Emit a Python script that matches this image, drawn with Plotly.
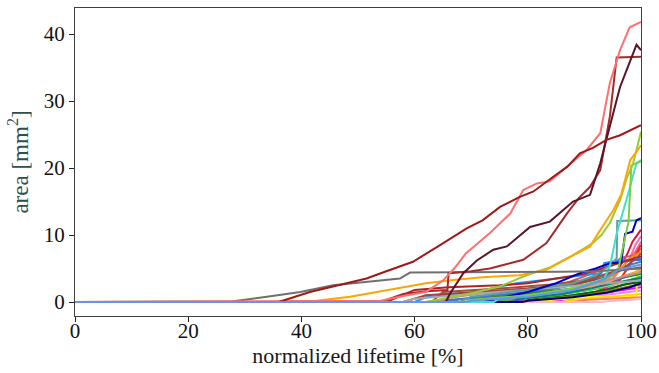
import plotly.graph_objects as go

# ---- data: knots (normalized lifetime %, area mm^2) ----
# small specimens (drawn first)
x_s01 = [0, 76, 78, 85, 90, 94, 96, 97.5, 98.5, 100]
y_s01 = [0, 0, 0.3, 1.0, 2.0, 3.5, 5.0, 7.0, 9.0, 10.8]
x_s02 = [0, 79, 80, 88, 93, 96, 98, 99, 100]
y_s02 = [0, 0, 0.5, 1.5, 3.0, 4.5, 6.5, 8.5, 9.8]
x_s03 = [0, 80, 82, 90, 95, 97, 99, 100]
y_s03 = [0, 0, 0.8, 2.0, 3.5, 5.5, 7.5, 9.0]
x_s04 = [0, 73, 75, 84, 89, 92, 95, 96.5, 99, 100]
y_s04 = [0, 0, 0.5, 2.0, 3.5, 4.5, 5.5, 6.6, 7.0, 8.0]
x_s05 = [0, 84, 85, 92, 96, 98, 100]
y_s05 = [0, 0, 0.5, 1.5, 3.0, 5.5, 8.5]
x_s06 = [0, 60, 62, 70, 78, 84, 88, 91, 93, 93.5, 96, 100]
y_s06 = [0, 0, 0.7, 1.4, 2.8, 3.4, 3.8, 4.2, 4.3, 5.8, 6.2, 6.5]
x_s07 = [0, 62, 66, 70, 80, 88, 92, 94, 96, 100]
y_s07 = [0, 0, 0.3, 0.6, 1.5, 2.5, 3.5, 5.5, 6.0, 6.3]
x_s08 = [0, 66, 68, 78, 86, 92, 95, 97, 100]
y_s08 = [0, 0, 0.4, 1.0, 2.2, 3.6, 4.3, 5.3, 6.0]
x_s10 = [0, 74, 75, 85, 91, 95, 98, 100]
y_s10 = [0, 0, 0.3, 1.0, 2.0, 3.0, 4.0, 4.5]
x_s11 = [0, 77, 78, 86, 92, 96, 100]
y_s11 = [0, 0, 0.2, 0.8, 1.5, 2.3, 3.2]
x_s12 = [0, 79, 80, 88, 93, 97, 100]
y_s12 = [0, 0, 0.2, 0.6, 1.2, 2.0, 2.6]
x_s13 = [0, 84, 85, 90, 94.5, 97, 100]
y_s13 = [0, 0, 0.2, 0.8, 1.5, 1.8, 2.2]
x_s14 = [0, 81, 82, 90, 95, 100]
y_s14 = [0, 0, 0.3, 0.7, 1.2, 1.7]
x_s15 = [0, 80, 82, 91.5, 99.2, 99.3, 100]
y_s15 = [0, 0, 0.2, 0.8, 0.8, 4.8, 5.0]
x_s16 = [0, 86, 88, 95, 100]
y_s16 = [0, 0, 0.3, 0.8, 1.2]
x_s17 = [0, 71, 72, 80, 88, 93, 96, 100]
y_s17 = [0, 0, 0.5, 1.2, 2.0, 2.8, 3.5, 4.2]
x_s18 = [0, 79, 80, 88, 94, 97, 100]
y_s18 = [0, 0, 0.3, 1.0, 1.8, 2.6, 3.0]
x_s19 = [0, 75, 76, 85, 91, 95, 100]
y_s19 = [0, 0, 0.3, 1.0, 1.8, 2.5, 3.8]
x_s20 = [0, 81, 82, 90, 95, 100]
y_s20 = [0, 0, 0.4, 1.0, 1.8, 2.7]
x_s21 = [0, 79, 80, 88, 93, 96, 98, 100]
y_s21 = [0, 0, 0.6, 1.5, 3.0, 4.5, 6.5, 7.5]
x_s22 = [0, 77, 78, 86, 92, 96, 100]
y_s22 = [0, 0, 0.5, 1.3, 2.4, 3.6, 4.8]
x_s23 = [0, 63, 65, 75, 84, 90, 95, 100]
y_s23 = [0, 0, 1.5, 2.0, 2.6, 3.2, 4.5, 5.2]
x_s24 = [0, 71, 72, 82, 90, 95, 100]
y_s24 = [0, 0, 0.4, 1.0, 1.8, 2.6, 3.4]
x_s25 = [0, 64, 66, 76, 84, 90, 96, 100]
y_s25 = [0, 0, 0.6, 1.8, 2.2, 2.6, 3.6, 4.4]
x_s26 = [0, 88, 90, 96, 100]
y_s26 = [0, 0, 0.3, 0.5, 0.7]
x_s27 = [0, 93, 95, 100]
y_s27 = [0, 0, 0.2, 0.4]
x_s28 = [0, 77, 78, 86, 91, 95, 100]
y_s28 = [0, 0, 0.4, 1.2, 2.0, 2.8, 3.6]
x_s29 = [0, 79, 80, 88, 94, 98, 100]
y_s29 = [0, 0, 0.2, 0.7, 1.4, 2.2, 2.8]
x_s30 = [0, 55, 60, 66, 75, 80, 85, 90, 95, 100]
y_s30 = [0, 0, 1.8, 2.2, 2.5, 2.8, 3.5, 4.2, 5.5, 6.8]
x_s31 = [0, 58, 62, 80, 88, 93, 97, 100]
y_s31 = [0, 0, 1.0, 2.0, 2.6, 3.5, 5.0, 7.2]
x_s32 = [0, 58, 60, 70, 80, 90, 100]
y_s32 = [0, 0, 0.5, 1.2, 1.8, 2.5, 3.2]

# larger specimens
x_cadet = [0, 68, 70, 80, 88, 92, 94.5, 95.7, 95.8, 99.5, 100]
y_cadet = [0, 0, 0.8, 1.8, 2.8, 4.0, 5.5, 6.5, 12.1, 12.1, 12.2]
x_blue = [0, 72, 76.3, 80, 85, 89.2, 92, 94.5, 96.5, 97.2, 98.5, 99.2, 100]
y_blue = [0, 0, 0.8, 1.5, 2.8, 4.3, 5.0, 5.8, 5.9, 10.2, 10.5, 12.2, 12.5]
x_turq = [0, 74, 75, 85, 90, 93.5, 94.5, 95.7, 97.5, 99.2, 100]
y_turq = [0, 0, 0.5, 1.5, 2.5, 3.5, 5.3, 10.2, 15.5, 20.7, 21.2]
x_green = [0, 69, 70, 80, 88, 94, 96, 97.8, 98.3, 100]
y_green = [0, 0, 0.3, 1.0, 2.0, 3.5, 5.0, 12.0, 20.4, 21.0]
x_ygreen = [0, 62, 70, 75, 79.2, 84, 88, 91.5, 93, 94.5, 96.3, 97.5, 98.6, 100]
y_ygreen = [0, 0, 1.3, 2.3, 3.8, 5.2, 7.0, 8.8, 10.0, 11.8, 15.2, 18.5, 20.7, 25.4]
x_orange = [0, 37, 42.7, 48.6, 53.3, 58.6, 62, 66.8, 72, 78.6, 83.3, 87, 91, 93, 95.1, 96.5, 98.1, 99, 100]
y_orange = [0, 0, 0.2, 0.8, 1.5, 2.3, 2.8, 3.3, 3.7, 4.0, 4.8, 6.5, 8.3, 11.0, 13.7, 16.0, 21.2, 22.2, 23.4]
x_gray = [0, 28, 33.9, 39.8, 45.6, 51.5, 57.4, 59.2, 79.8, 86, 92, 96, 100]
y_gray = [0, 0.1, 0.8, 1.5, 2.5, 3.0, 3.5, 4.4, 4.4, 4.5, 4.6, 4.8, 5.0]
x_brown = [0, 54, 58, 62, 65.8, 66, 70, 73.3, 76, 79.2, 83.3, 86.9, 89, 91, 92.8, 94.5, 95.7, 100]
y_brown = [0, 0, 1.2, 1.6, 1.8, 4.3, 4.6, 5.0, 5.6, 6.3, 8.8, 13.2, 15.5, 17.2, 19.7, 27.7, 36.5, 36.6]
x_maroon = [0, 65.5, 66.3, 68.6, 71, 73.9, 76.3, 78, 80.4, 83.9, 86, 88, 91, 92.8, 95.1, 96.3, 99.2, 100]
y_maroon = [0, 0, 1.3, 4.3, 6.2, 7.8, 8.3, 9.5, 11.2, 12.0, 13.5, 15.0, 16.0, 20.7, 28.2, 32.1, 38.4, 37.6]
x_salmon = [0, 54, 58, 62, 65, 67, 69, 73.3, 76.9, 79.2, 81.6, 83.9, 86.9, 90.4, 92.8, 94.5, 96.3, 98, 100]
y_salmon = [0, 0.2, 0.9, 1.5, 3.2, 5.0, 7.2, 10.3, 13.2, 16.7, 17.7, 18.0, 20.2, 22.7, 25.2, 32.7, 37.6, 41.0, 41.8]
x_dred = [0, 36, 41.5, 46.8, 51.5, 55, 59.7, 64.5, 69.2, 72, 75.1, 78.6, 81, 84.5, 87, 89.2, 91.5, 93.9, 96.3, 100]
y_dred = [0, 0, 1.5, 2.5, 3.5, 4.6, 6.0, 8.5, 11.0, 12.2, 14.2, 15.7, 16.5, 18.7, 20.2, 22.2, 23.0, 24.2, 24.9, 26.4]
# baseline specimen (drawn last)
x_s09 = [0, 69, 70, 80, 88, 93, 96, 100]
y_s09 = [0, 0, 0.2, 0.8, 1.8, 3.2, 4.8, 5.6]

series = [
    (x_s01, y_s01), (x_s02, y_s02), (x_s03, y_s03), (x_s04, y_s04), (x_s05, y_s05),
    (x_s06, y_s06), (x_s07, y_s07), (x_s08, y_s08), (x_s10, y_s10), (x_s11, y_s11),
    (x_s12, y_s12), (x_s13, y_s13), (x_s14, y_s14), (x_s15, y_s15), (x_s16, y_s16),
    (x_s17, y_s17), (x_s18, y_s18), (x_s19, y_s19), (x_s20, y_s20), (x_s21, y_s21),
    (x_s22, y_s22), (x_s23, y_s23), (x_s24, y_s24), (x_s25, y_s25), (x_s26, y_s26),
    (x_s27, y_s27), (x_s28, y_s28), (x_s29, y_s29), (x_s30, y_s30), (x_s31, y_s31),
    (x_s32, y_s32),
    (x_cadet, y_cadet), (x_blue, y_blue), (x_turq, y_turq), (x_green, y_green),
    (x_ygreen, y_ygreen), (x_orange, y_orange), (x_gray, y_gray), (x_brown, y_brown),
    (x_maroon, y_maroon), (x_salmon, y_salmon), (x_dred, y_dred),
    (x_s09, y_s09),
]

# ---- styles ----
colors = [
    "#DC143C", "#FF69B4", "#DB7093", "#CD5C5C", "#FF2020",
    "#1E90FF", "#4169E1", "#4682B4", "#6A5ACD", "#8A2BE2",
    "#9932CC", "#FF00FF", "#EE82EE", "#FFFF00", "#FFD700",
    "#228B22", "#006400", "#32CD32", "#808000", "#FF8C00",
    "#F4A460", "#A0522D", "#D2B48C", "#BC8F8F", "#FA8072",
    "#FFB6C1", "#008080", "#000080", "#B22222", "#A0404A",
    "#A9A9A9",
    "#5F9EA0", "#0000CD", "#40E0D0", "#7CCD40", "#9ACD32",
    "#FFA500", "#707070", "#A52A2A", "#5A1428", "#FF7070", "#A01818",
    "#6495ED",
]

fig = go.Figure()
for (xs, ys), c in zip(series, colors):
    fig.add_trace(go.Scatter(x=xs, y=ys, mode="lines",
                             line=dict(color=c, width=2), showlegend=False,
                             hoverinfo="skip"))

FONT = "Liberation Serif"
axis_common = dict(
    showline=True, mirror=True, linecolor="#404040", linewidth=1.2,
    ticks="outside", ticklen=5, tickwidth=1, tickcolor="#222222",
    showgrid=False, zeroline=False, automargin=False,
    tickfont=dict(family=FONT, size=21, color="#111111"),
)
fig.update_layout(
    width=659, height=373,
    margin=dict(l=75, r=18, t=8, b=57),
    paper_bgcolor="white", plot_bgcolor="white",
    font=dict(family=FONT),
    xaxis=dict(range=[0, 100], tickvals=[0, 20, 40, 60, 80, 100],
               ticklabelstandoff=-9,
               title=dict(text="normalized lifetime [%]",
                          font=dict(family=FONT, size=22, color="#1a1a1a"),
                          standoff=0),
               **axis_common),
    yaxis=dict(range=[-2.09, 43.89], tickvals=[0, 10, 20, 30, 40],
               title=dict(text="area [mm<sup>2</sup>]",
                          font=dict(family=FONT, size=23, color="#2F4F4F"),
                          standoff=8),
               **axis_common),
)

fig.write_html("out.html",
               config={"displayModeBar": False},
               post_script="document.body.style.margin='0';document.body.style.padding='0';")
